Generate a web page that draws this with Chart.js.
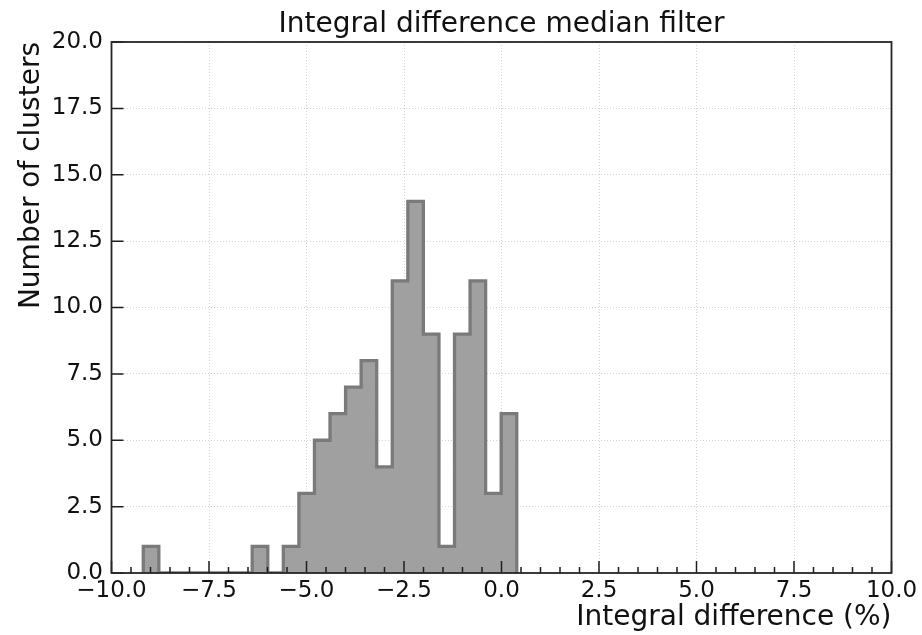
<!DOCTYPE html>
<html><head><meta charset="utf-8">
<script src="https://cdn.jsdelivr.net/npm/chart.js@4.4.1/dist/chart.umd.min.js"></script>
<style>html,body{margin:0;padding:0;background:#fff;}#wrap{position:relative;width:922px;height:635px;}</style>
</head><body><div id="wrap"><canvas id="c"></canvas></div>
<script>
// ---- data ----
const binEdges = [-9.185, -8.786, -8.387, -7.988, -7.589, -7.190, -6.791, -6.392, -5.993, -5.594,
                  -5.195, -4.796, -4.397, -3.998, -3.599, -3.200, -2.801, -2.402, -2.003, -1.604,
                  -1.205, -0.806, -0.407, -0.008, 0.391];
const counts = [1, 0, 0, 0, 0, 0, 0, 1, 0, 1, 3, 5, 6, 7, 8, 4, 11, 14, 9, 1, 9, 11, 3, 6];
const xTickValues = [-10, -7.5, -5, -2.5, 0, 2.5, 5, 7.5, 10];
const yTickValues = [0, 2.5, 5, 7.5, 10, 12.5, 15, 17.5, 20];
const titleText = 'Integral difference median filter';
const xLabel = 'Integral difference (%)';
const yLabel = 'Number of clusters';

// step outline built from the edges and counts
const stepPoints = [{x: binEdges[0], y: 0}];
counts.forEach((c, i) => stepPoints.push({x: binEdges[i], y: c}));
stepPoints.push({x: binEdges[binEdges.length - 1], y: 0});

const FONT = "'DejaVu Sans', sans-serif";
const fmt = v => (v < 0 ? '\u2212' : '') + Math.abs(v).toFixed(1);

const framePlugin = {
  id: 'frame',
  afterDraw(chart) {
    const {ctx, chartArea: a, scales: {x, y}} = chart;
    ctx.save();
    ctx.strokeStyle = '#1e1e1e';
    ctx.lineWidth = 1.5;
    ctx.beginPath();
    x.ticks.forEach(t => {
      const px = x.getPixelForValue(t.value);
      ctx.moveTo(px, a.bottom); ctx.lineTo(px, a.bottom - 12);
    });
    for (let v = x.min; v <= x.max + 1e-9; v += 0.5) {
      const px = x.getPixelForValue(v);
      ctx.moveTo(px, a.bottom); ctx.lineTo(px, a.bottom - 6);
    }
    y.ticks.forEach(t => {
      const py = y.getPixelForValue(t.value);
      ctx.moveTo(a.left, py); ctx.lineTo(a.left + 12, py);
    });
    ctx.stroke();
    ctx.strokeStyle = '#262626';
    ctx.lineWidth = 1.8;
    ctx.strokeRect(a.left, a.top, a.right - a.left, a.bottom - a.top);
    ctx.restore();
  }
};

new Chart(document.getElementById('c'), {
  type: 'line',
  data: {
    datasets: [{
      data: stepPoints,
      stepped: 'before',
      fill: 'origin',
      backgroundColor: '#a0a0a0',
      borderColor: '#7a7a7a',
      borderWidth: 3.3,
      pointRadius: 0,
      tension: 0,
      clip: 0
    }]
  },
  options: {
    responsive: true,
    maintainAspectRatio: false,
    animation: false,
    layout: {padding: {left: 0, right: 30.5, top: 0, bottom: 0}},
    plugins: {
      legend: {display: false},
      tooltip: {enabled: false},
      title: {
        display: true,
        text: titleText,
        fullSize: false,
        color: '#111',
        font: {family: FONT, size: 28, weight: 'normal', lineHeight: 1.2},
        padding: {top: 8, bottom: 0.4}
      }
    },
    scales: {
      x: {
        type: 'linear',
        min: -10, max: 10,
        afterBuildTicks: s => { s.ticks = xTickValues.map(v => ({value: v})); },
        afterFit: s => { s.height = 62; },
        ticks: {
          callback: v => fmt(v),
          autoSkip: false, maxRotation: 0, minRotation: 0,
          padding: 4,
          color: '#111',
          font: {family: FONT, size: 23}
        },
        grid: {color: '#d2d2d2', lineWidth: 1, drawTicks: false},
        border: {display: false, dash: [1, 2]},
        title: {
          display: true, text: xLabel, align: 'end',
          color: '#111',
          font: {family: FONT, size: 28, lineHeight: 1.2},
          padding: {top: 0, bottom: 0}
        }
      },
      y: {
        type: 'linear',
        min: 0, max: 20,
        afterBuildTicks: s => { s.ticks = yTickValues.map(v => ({value: v})); },
        afterFit: s => { s.width = 111.5; },
        ticks: {
          callback: v => fmt(v),
          autoSkip: false,
          padding: 8.5,
          color: '#111',
          font: {family: FONT, size: 23}
        },
        grid: {color: '#d2d2d2', lineWidth: 1, drawTicks: false},
        border: {display: false, dash: [1, 2]},
        title: {
          display: true, text: yLabel, align: 'end',
          color: '#111',
          font: {family: FONT, size: 28, lineHeight: 1.2},
          padding: {top: 15, bottom: 0}
        }
      }
    }
  },
  plugins: [framePlugin]
});
</script></body></html>
